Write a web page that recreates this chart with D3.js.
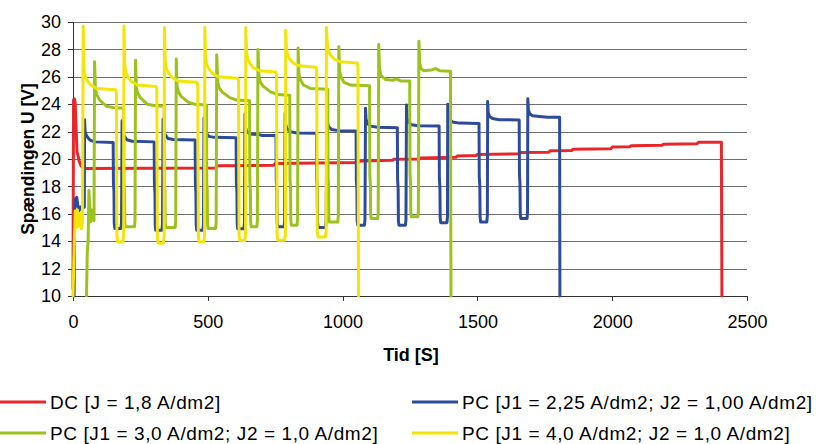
<!DOCTYPE html>
<html lang="da">
<head>
    <meta charset="utf-8">
    <title>Spændingen U over tid</title>
    <style>
        body { margin: 0; background: #fff; }
        text { font-family: "Liberation Sans", Arial, sans-serif; fill: #000; }
        .grid line { stroke: #6e6e6e; shape-rendering: crispEdges; }
        .axis path, .axis line { stroke: #333; shape-rendering: crispEdges; }
        .serie { fill: none; stroke-width: 3; stroke-linejoin: round; stroke-linecap: round; }
    </style>
    <script src="https://d3js.org/d3.v7.min.js"></script>
</head>
<body>
    <svg></svg>
    <script>
        // tick values
        var xTicks = [0, 500, 1000, 1500, 2000, 2500];
        var yTicks = [10, 12, 14, 16, 18, 20, 22, 24, 26, 28, 30];

        // legend texts
        var names = [
            "DC [J = 1,8 A/dm2]",
            "PC [J1 = 2,25 A/dm2; J2 = 1,00 A/dm2]",
            "PC [J1 = 3,0 A/dm2; J2 = 1,0 A/dm2]",
            "PC [J1 = 4,0 A/dm2; J2 = 1,0 A/dm2]"
        ];
        var colors = ["#e8272b", "#2e4a9b", "#9cc31d", "#f3e40a"];

        // [tid, spænding]
        var dc = [[0,10.5],[2,24.3],[5,24.4],[8,24.1],[12,22],[15,20.5],[18,20.3],[22,19.9],[30,19.5],[40,19.3],
            [530,19.35],[533,19.5],[745,19.55],[750,19.68],[1060,19.75],[1065,19.85],[1185,19.9],[1190,19.98],
            [1285,20.0],[1290,20.08],[1420,20.12],[1425,20.22],[1495,20.25],[1500,20.33],[1655,20.38],[1660,20.47],
            [1765,20.5],[1770,20.6],[1850,20.62],[1855,20.72],[1995,20.75],[2000,20.87],[2065,20.9],[2070,20.97],
            [2185,21.0],[2190,21.08],[2315,21.12],[2320,21.22],[2405,21.22],[2407,10]];

        var pc225 = [[4,10],[6,16],[9,17.1],[14,17.2],[18,16.6],[22,16.2],[28,16.5],[35,16.4],[42,16.5],
            [43,22.86],[45,22.0],[50,21.7],[62,21.4],[80,21.25],[149,21.2],[150,18.2],[152,17.6],[153,15.3],[155,14.93],[178,14.93],[180,15.4],
            [182,22.8],[184,22.0],[189,21.7],[200,21.4],[220,21.3],[301,21.25],[302,18.2],[304,17.5],[305,15.2],[307,14.8],[330,14.8],[332,15.3],
            [334,22.9],[336,22.1],[341,21.8],[352,21.5],[372,21.42],[453,21.39],[454,18.2],[456,17.5],[457,15.2],[459,14.8],[482,14.8],[484,15.3],
            [486,23.0],[488,22.2],[493,21.9],[504,21.65],[524,21.58],[605,21.56],[606,18.3],[608,17.6],[609,15.3],[611,14.9],[634,14.9],[636,15.4],
            [638,23.3],[640,22.3],[645,22.0],[656,21.82],[690,21.78],[700,21.72],[753,21.72],[754,18.4],[756,17.7],[757,15.4],[759,15.05],[783,15.05],[785,15.5],
            [787,23.35],[789,22.5],[794,22.2],[805,22.0],[830,21.9],[903,21.88],[904,18.5],[906,17.8],[907,15.4],[909,15.0],[937,15.0],[939,15.5],
            [942,23.3],[944,22.6],[949,22.35],[960,22.15],[985,22.07],[1050,22.05],[1051,18.5],[1053,17.8],[1054,15.5],[1056,15.17],[1081,15.17],[1083,15.6],
            [1085,23.7],[1087,22.9],[1092,22.6],[1103,22.4],[1130,22.32],[1203,22.29],[1204,18.5],[1206,17.8],[1207,15.5],[1209,15.17],[1233,15.17],[1235,15.6],
            [1237,23.95],[1239,23.0],[1244,22.7],[1255,22.5],[1280,22.43],[1358,22.4],[1359,18.6],[1361,17.9],[1362,15.7],[1364,15.35],[1387,15.35],[1389,15.8],
            [1390,24.0],[1392,23.2],[1397,22.9],[1408,22.7],[1433,22.62],[1506,22.6],[1507,18.7],[1509,18.0],[1510,15.8],[1512,15.4],[1535,15.4],[1537,15.9],
            [1538,24.2],[1540,23.4],[1545,23.1],[1556,22.95],[1581,22.87],[1655,22.85],[1656,18.9],[1658,18.2],[1659,16.0],[1661,15.65],[1684,15.65],[1686,16.1],
            [1687,24.4],[1689,23.6],[1694,23.3],[1705,23.15],[1730,23.1],[1760,23.05],[1805,23.05],[1806,10]];

        var pc30 = [[50,10],[53,13.2],[56,14],[59,17.7],[62,16.5],[65,15.4],[68,16.3],[72,15.6],[78,15.5],
            [80,27.1],[83,25.1],[88,24.7],[99,24.3],[124,23.85],[150,23.75],[188,23.7],[189,18.3],[191,17.6],[192,15.4],[194,15.05],[228,15.05],[230,15.5],
            [232,27.2],[235,25.2],[240,24.8],[251,24.45],[276,24.0],[300,23.9],[338,23.85],[339,18.3],[341,17.6],[342,15.4],[344,15.0],[379,15.0],[381,15.5],
            [383,27.3],[386,25.3],[391,24.9],[402,24.55],[427,24.15],[451,24.0],[495,23.95],[496,18.3],[498,17.6],[499,15.3],[501,14.93],[529,14.93],[531,15.4],
            [533,27.6],[537,25.6],[542,25.2],[553,24.9],[580,24.5],[606,24.3],[655,24.25],[656,18.4],[658,17.7],[659,15.4],[661,15.05],[682,15.05],[684,15.5],
            [686,28.0],[690,26.0],[695,25.6],[706,25.3],[733,24.9],[759,24.7],[804,24.65],[805,18.5],[807,17.8],[808,15.5],[810,15.17],[831,15.17],[833,15.6],
            [835,28.1],[838,26.2],[843,25.8],[855,25.4],[880,25.15],[945,25.1],[946,18.6],[948,17.9],[949,15.7],[951,15.4],[982,15.4],[984,15.8],
            [986,28.2],[989,26.4],[994,26.0],[1005,25.6],[1030,25.4],[1100,25.35],[1101,18.8],[1103,18.1],[1104,16.0],[1106,15.65],[1130,15.65],[1132,16.0],
            [1134,28.35],[1137,26.6],[1142,26.1],[1160,25.8],[1185,25.75],[1200,25.85],[1215,25.7],[1249,25.7],[1250,18.9],[1252,18.2],[1253,16.1],[1255,15.78],[1279,15.78],[1281,16.2],
            [1283,28.6],[1286,27.0],[1291,26.6],[1300,26.45],[1330,26.5],[1345,26.6],[1360,26.45],[1400,26.4],[1402,10]];

        var pc40 = [[0,10],[5,14],[8,16.2],[12,15.0],[16,16.3],[21,15.1],[26,16.0],[31,14.9],[35,15.4],
            [38,29.7],[41,26.6],[45,26.0],[53,25.7],[66,25.4],[88,25.15],[158,25.05],[161,24.8],[163,14.4],[166,13.95],[185,13.95],[188,14.4],
            [189,29.7],[192,26.9],[196,26.3],[204,26.0],[217,25.65],[239,25.4],[308,25.3],[311,25.1],[313,14.3],[316,13.85],[335,13.85],[338,14.3],
            [339,29.6],[342,27.2],[346,26.6],[354,26.3],[367,25.95],[389,25.7],[460,25.6],[463,25.4],[465,14.4],[468,13.95],[485,13.95],[488,14.4],
            [489,29.6],[492,27.4],[496,26.9],[504,26.6],[517,26.25],[539,26.0],[611,25.9],[614,25.7],[616,14.5],[619,14.05],[637,14.05],[640,14.5],
            [641,29.6],[644,27.8],[648,27.3],[656,27.0],[669,26.65],[691,26.45],[752,26.35],[755,26.1],[757,14.5],[760,14.07],[785,14.07],[788,14.5],
            [789,29.4],[792,28.1],[796,27.6],[804,27.3],[817,27.0],[839,26.8],[901,26.7],[904,26.5],[906,14.7],[909,14.3],[936,14.3],[939,14.7],
            [940,29.6],[943,28.5],[947,27.9],[955,27.6],[968,27.3],[990,27.1],[1054,27.0],[1057,26.8],[1059,10]];

        var series = [dc, pc225, pc30, pc40];

        // dimensions and margins
        var margin = {top: 22, right: 69, bottom: 148, left: 73},
            width = 816 - margin.left - margin.right,
            height = 444 - margin.top - margin.bottom;

        var x = d3.scaleLinear().domain([0, 2500]).range([0, width]);
        var y = d3.scaleLinear().domain([10, 30]).range([height, 0]);

        var svgRoot = d3.select("svg")
            .attr("width", 816)
            .attr("height", 444);
        var svg = svgRoot.append("g")
            .attr("transform", "translate(" + margin.left + "," + margin.top + ")");

        // horizontal gridlines
        svg.append("g")
            .attr("class", "grid")
            .selectAll("line")
            .data(yTicks)
            .enter().append("line")
            .attr("x1", 0)
            .attr("x2", width)
            .attr("y1", function(d) { return Math.round(y(d)) + 0.5; })
            .attr("y2", function(d) { return Math.round(y(d)) + 0.5; });

        // y axis
        var yAxis = svg.append("g")
            .attr("class", "axis")
            .call(d3.axisLeft(y).tickValues(yTicks).tickSize(5).tickPadding(7));
        yAxis.selectAll("text").style("font-size", "18px");
        yAxis.select(".domain").attr("d", "M0.5," + height + "V0");

        // x axis
        var xAxis = svg.append("g")
            .attr("class", "axis")
            .attr("transform", "translate(0," + height + ")")
            .call(d3.axisBottom(x).tickValues(xTicks).tickFormat(d3.format("d")).tickSize(5).tickPadding(14));
        xAxis.selectAll("text").style("font-size", "18px");
        xAxis.select(".domain").attr("d", "M0,0.5H" + width);

        // lines
        var line = d3.line()
            .x(function(d) { return x(d[0]); })
            .y(function(d) { return y(d[1]); });

        svg.selectAll(".serie")
            .data(series)
            .enter().append("path")
            .attr("class", "serie")
            .attr("stroke", function(d, i) { return colors[i]; })
            .attr("d", line);

        // axis titles
        svgRoot.append("text")
            .attr("x", 411)
            .attr("y", 361)
            .attr("text-anchor", "middle")
            .style("font-size", "18px")
            .style("font-weight", "bold")
            .text("Tid [S]");

        svgRoot.append("text")
            .attr("transform", "translate(34," + (margin.top + height / 2) + ") rotate(-90)")
            .attr("text-anchor", "middle")
            .style("font-size", "17.5px")
            .style("font-weight", "bold")
            .text("Spændingen U [V]");

        // legend, two columns (second row kept just inside the bottom edge)
        var legend = svgRoot.selectAll(".legend")
            .data(names)
            .enter().append("g")
            .attr("class", "legend")
            .attr("transform", function(d, i) {
                return "translate(" + (i % 2 ? 412 : 0) + "," + (i < 2 ? 402 : 433) + ")";
            });
        legend.append("line")
            .attr("x1", 0).attr("x2", 46)
            .attr("stroke-width", 3)
            .attr("stroke", function(d, i) { return colors[i]; });
        legend.append("text")
            .attr("x", 50)
            .attr("y", 6.5)
            .style("font-size", "19px")
            .style("letter-spacing", "0.6px")
            .text(function(d) { return d; });
    </script>
</body>
</html>
